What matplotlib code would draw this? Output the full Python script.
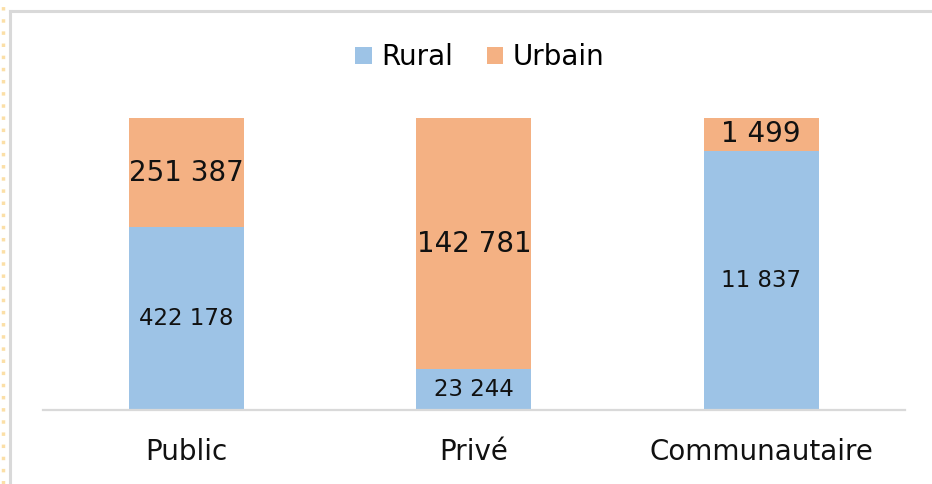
import matplotlib
matplotlib.use("Agg")
import matplotlib.pyplot as plt
from matplotlib.lines import Line2D
from matplotlib.patches import Patch

categories = ["Public", "Privé", "Communautaire"]
rural = [422178, 23244, 11837]
urbain = [251387, 142781, 1499]
rural_labels = ["422 178", "23 244", "11 837"]
urbain_labels = ["251 387", "142 781", "1 499"]

c_rural = "#9DC3E6"
c_urbain = "#F4B183"

plt.rcParams["font.family"] = ["DejaVu Sans"]

fig = plt.figure(figsize=(9.32, 4.84), dpi=100)
ax = fig.add_axes([0.046, 0.153, 0.925, 0.603])

tot = [r + u for r, u in zip(rural, urbain)]
rf = [r / t for r, t in zip(rural, tot)]
uf = [u / t for u, t in zip(urbain, tot)]
x = list(range(len(categories)))

ax.bar(x, rf, width=0.4, color=c_rural, zorder=2)
ax.bar(x, uf, width=0.4, bottom=rf, color=c_urbain, zorder=2)

for i in x:
    ax.text(i, rf[i] / 2, rural_labels[i], ha="center", va="center",
            fontsize=16.5, color="#111111", zorder=3)
    ax.text(i, rf[i] + uf[i] / 2, urbain_labels[i], ha="center", va="center",
            fontsize=20, color="#111111", zorder=3)

ax.set_xlim(-0.5, 2.5)
ax.set_ylim(0, 1)
ax.set_yticks([])
ax.set_xticks(x)
ax.set_xticklabels(categories, fontsize=20)
ax.tick_params(axis="x", length=0, pad=20, colors="#111111")
for s in ["top", "right", "left"]:
    ax.spines[s].set_visible(False)
ax.spines["bottom"].set_color("#d9d9d9")
ax.spines["bottom"].set_linewidth(1.6)

handles = [Patch(facecolor=c_rural, label="Rural"),
           Patch(facecolor=c_urbain, label="Urbain")]
fig.legend(handles=handles, loc="center", bbox_to_anchor=(0.515, 0.882),
           ncol=2, frameon=False, fontsize=20, handlelength=0.6,
           handleheight=0.6, handletextpad=0.35, columnspacing=1.2)

# frame decoration
fig.add_artist(Line2D([0.011, 1.0], [1 - 11 / 484, 1 - 11 / 484],
                      color="#d9d9d9", lw=2.2, transform=fig.transFigure))
fig.add_artist(Line2D([0.0105, 0.0105], [0, 1 - 11 / 484],
                      color="#d9d9d9", lw=2.2, transform=fig.transFigure))
fig.add_artist(Line2D([3 / 932, 3 / 932], [0, 1 - 4 / 484],
                      color="#fbd891", lw=2.5, ls=(0, (1, 2.5)),
                      transform=fig.transFigure, alpha=0.8))

fig.savefig("out.png", dpi=100, facecolor="white")
